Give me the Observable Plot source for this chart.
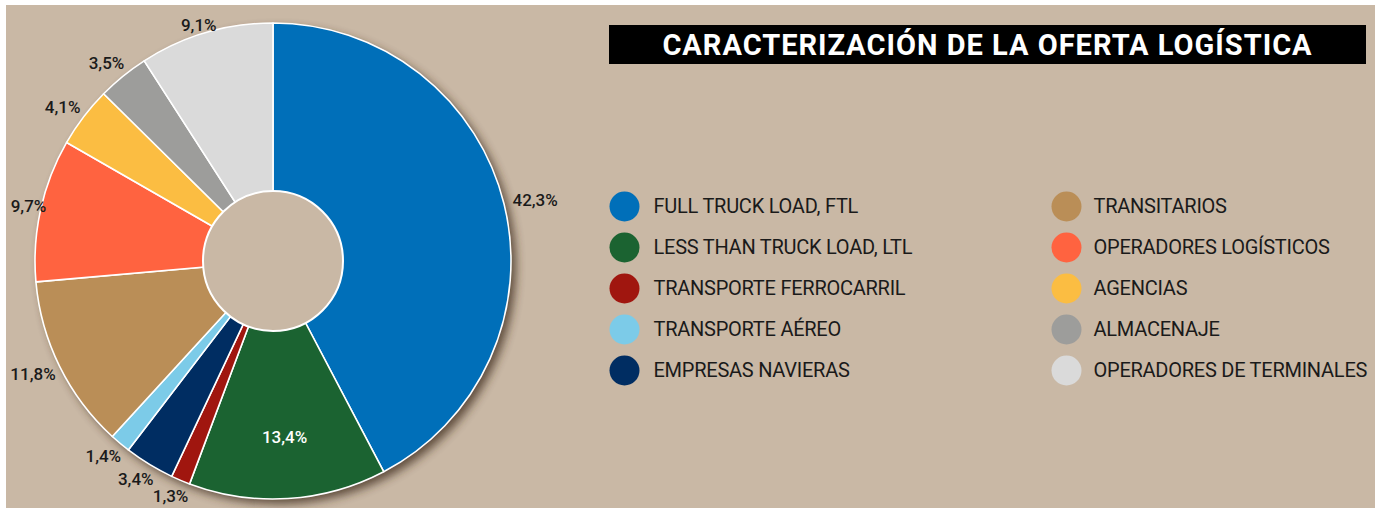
<!DOCTYPE html>
<html><head><meta charset="utf-8">
<script src="https://cdn.jsdelivr.net/npm/d3@7"></script>
<script src="https://cdn.jsdelivr.net/npm/@observablehq/plot@0.6"></script>
<style>
html,body{margin:0;padding:0;background:#fff;width:1375px;height:508px;overflow:hidden;}
#wrap{position:absolute;left:6px;top:5px;width:1369px;height:503px;background:#c9b8a5;overflow:hidden;}
#chart{position:absolute;left:0;top:0;}
#chart g[font-size="20"]{letter-spacing:-0.25px;}
#title{position:absolute;left:603px;top:20px;width:757px;height:39px;background:#000;color:#fff;font-family:"Roboto";font-weight:bold;font-size:29px;letter-spacing:1px;line-height:40px;text-align:center;white-space:nowrap;}
</style></head>
<body><div id="wrap"><div id="chart"></div><div id="title">CARACTERIZACIÓN DE LA OFERTA LOGÍSTICA</div></div>
<script>
// Slices in drawing order (clockwise from 12 o'clock)
const categories = [
  "FULL TRUCK LOAD, FTL",
  "LESS THAN TRUCK LOAD, LTL",
  "TRANSPORTE FERROCARRIL",
  "EMPRESAS NAVIERAS",
  "TRANSPORTE AÉREO",
  "TRANSITARIOS",
  "OPERADORES LOGÍSTICOS",
  "AGENCIAS",
  "ALMACENAJE",
  "OPERADORES DE TERMINALES"
];
const values = [42.3, 13.4, 1.3, 3.4, 1.4, 11.8, 9.7, 4.1, 3.5, 9.1];
const colors = ["#006fb9", "#1b6331", "#a0160f", "#002d62", "#7ccbe8", "#ba8e57", "#ff6340", "#fbbd42", "#9d9d9b", "#dadada"];
// Legend order (two columns of five)
const legendOrder = [
  "FULL TRUCK LOAD, FTL",
  "LESS THAN TRUCK LOAD, LTL",
  "TRANSPORTE FERROCARRIL",
  "TRANSPORTE AÉREO",
  "EMPRESAS NAVIERAS",
  "TRANSITARIOS",
  "OPERADORES LOGÍSTICOS",
  "AGENCIAS",
  "ALMACENAJE",
  "OPERADORES DE TERMINALES"
];
const insideLabels = ["LESS THAN TRUCK LOAD, LTL"];

const BG = "#c9b8a5";
const CX = 273, CY = 261, R = 238, R0 = 70;

const table = categories.map((c, i) => ({category: c, value: values[i]}));
const arcs = d3.pie().sort(null).value(d => d.value)(table);
const fmt = v => v.toFixed(1).replace(".", ",") + "%";

const labelData = arcs.map(a => {
  const t = (a.startAngle + a.endAngle) / 2;
  const s = Math.sin(t), c = Math.cos(t);
  const label = fmt(a.data.value);
  const inside = insideLabels.includes(a.data.category);
  if (inside) {
    const r = 176;
    return {x: CX + s * r, y: CY - c * r, label, inside};
  }
  const r = 247, w = label.length * 9, h = 16;
  let x = CX + s * r + s * w / 2, y = CY - c * r - c * h / 2;
  x = Math.max(x, 6 + w / 2 + 4);
  y = Math.max(y, 5 + h / 2 + 12);
  return {x, y, label, inside};
});

const legendData = legendOrder.map((c, i) => ({
  category: c,
  dx: i < 5 ? 624 : 1066,
  tx: i < 5 ? 653 : 1093,
  y: 206 + (i % 5) * 41
}));

function pieMark(index, scales) {
  const sx = scales && scales.x ? scales.x : (v => v - 6);
  const sy = scales && scales.y ? scales.y : (v => v - 5);
  const color = scales && scales.color ? scales.color : (c => colors[categories.indexOf(c)]);
  const cx = sx(CX), cy = sy(CY);
  const r = sx(CX + R) - cx, r0 = sx(CX + R0) - cx;
  const g = d3.create("svg:g");
  const f = g.append("defs").append("filter").attr("id", "pieShadow")
    .attr("x", "-20%").attr("y", "-20%").attr("width", "140%").attr("height", "140%");
  f.append("feGaussianBlur").attr("stdDeviation", 5);
  g.append("circle").attr("cx", cx + 5).attr("cy", cy + 5).attr("r", r)
    .attr("fill", "#3e2c1a").attr("opacity", 0.75).attr("filter", "url(#pieShadow)");
  const arc = d3.arc().innerRadius(0).outerRadius(r);
  g.append("g").attr("transform", `translate(${cx},${cy})`)
    .selectAll("path").data(arcs).join("path")
    .attr("d", arc)
    .attr("fill", d => color(d.data.category))
    .attr("stroke", "#fff").attr("stroke-width", 1.6).attr("stroke-linejoin", "round");
  g.append("circle").attr("cx", cx).attr("cy", cy).attr("r", r0)
    .attr("fill", BG).attr("stroke", "#fff").attr("stroke-width", 2);
  return g.node();
}

const plot = Plot.plot({
  width: 1369,
  height: 503,
  margin: 0,
  style: {background: "transparent", overflow: "visible"},
  x: {domain: [6, 1375], range: [0, 1369], axis: null},
  y: {domain: [5, 508], range: [0, 503], axis: null},
  color: {domain: categories, range: colors},
  marks: [
    pieMark,
    Plot.text(labelData.filter(d => !d.inside), {
      x: "x", y: "y", text: "label", fill: "#1a1a1a",
      fontSize: 17, fontFamily: "Roboto", fontWeight: 500, textAnchor: "middle"
    }),
    Plot.text(labelData.filter(d => d.inside), {
      x: "x", y: "y", text: "label", fill: "#ffffff",
      fontSize: 17, fontFamily: "Roboto", fontWeight: 500, textAnchor: "middle"
    }),
    Plot.dot(legendData, {x: "dx", y: "y", r: 15, fill: "category", stroke: null}),
    Plot.text(legendData, {
      x: "tx", y: "y", text: "category", fill: "#1a1a1a",
      fontSize: 20, fontFamily: "Roboto", textAnchor: "start"
    })
  ]
});
document.getElementById("chart").appendChild(plot);
</script>
</body></html>
